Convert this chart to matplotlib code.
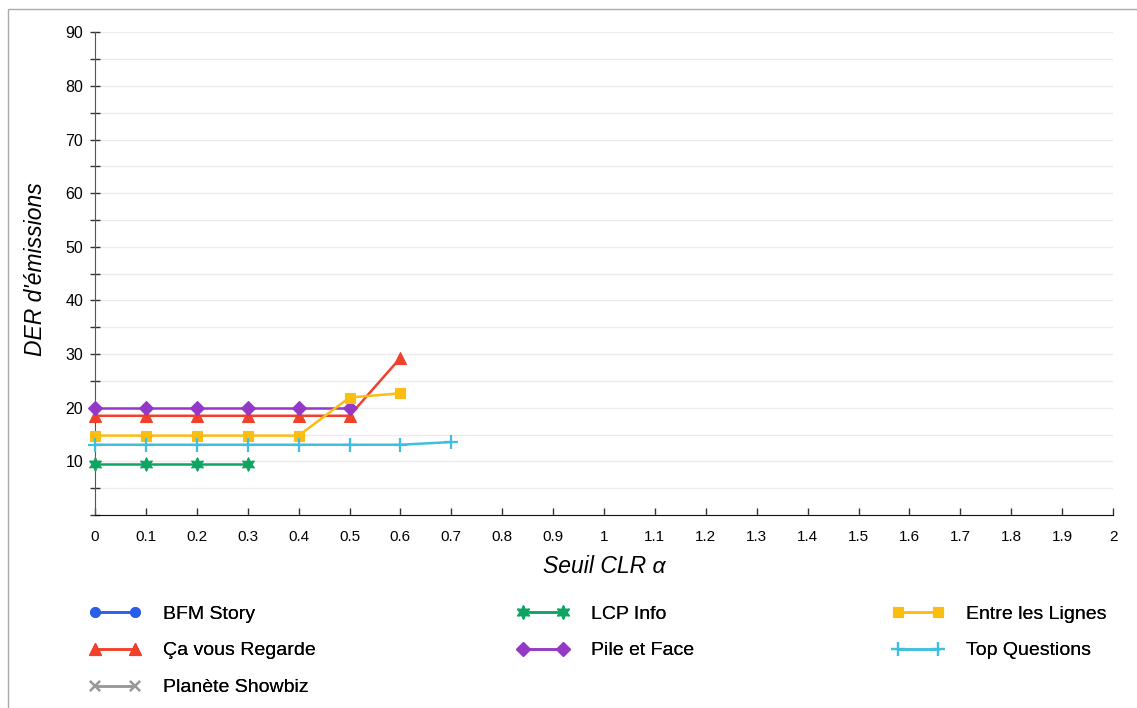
import matplotlib.pyplot as plt
from matplotlib.patches import Rectangle
from matplotlib.ticker import MultipleLocator

plt.rcParams['font.family'] = ['Liberation Sans', 'DejaVu Sans']

# data
alphas = [0.0, 0.1, 0.2, 0.3, 0.4, 0.5, 0.6, 0.7]

bfm_story = []
ca_vous_regarde = [18.5, 18.5, 18.5, 18.5, 18.5, 18.5, 29.3]
planete_showbiz = []
lcp_info = [9.5, 9.5, 9.5, 9.5]
pile_et_face = [19.9, 19.9, 19.9, 19.9, 19.9, 19.9]
entre_les_lignes = [14.8, 14.8, 14.8, 14.8, 14.8, 21.9, 22.7]
top_questions = [13.1, 13.1, 13.1, 13.1, 13.1, 13.1, 13.1, 13.6]

series = [
    ("BFM Story", bfm_story, "#2a5ee8", "o", 7),
    ("Ça vous Regarde", ca_vous_regarde, "#f0412b", "^", 9),
    ("Planète Showbiz", planete_showbiz, "#999999", "x", 7),
    ("LCP Info", lcp_info, "#0da561", (6, 1, 0), 10),
    ("Pile et Face", pile_et_face, "#9438c8", "D", 7),
    ("Entre les Lignes", entre_les_lignes, "#fbbd12", "s", 7),
    ("Top Questions", top_questions, "#3fbfe0", "+", 10),
]

W, H = 1137, 708
fig = plt.figure(figsize=(W / 100, H / 100), dpi=100)
ax = fig.add_axes([95 / W, 1 - 515 / H, (1113 - 95) / W, (515 - 32.3) / H])

handles = {}
for name, vals, color, marker, ms in series:
    xs = alphas[:len(vals)]
    (ln,) = ax.plot(xs, vals, color=color, marker=marker, markersize=ms,
                    linewidth=1.8, markeredgewidth=1.6 if marker in ("x", "+") else 0.8,
                    markeredgecolor=color, clip_on=False, zorder=3)
    handles[name] = ln

ax.set_xlim(0, 2)
ax.set_ylim(0, 90)
ax.yaxis.set_minor_locator(MultipleLocator(5))
xt = [round(i * 0.1, 1) for i in range(21)]
ax.set_xticks(xt)
ax.set_xticklabels([("%g" % v) for v in xt], fontsize=11)
yt = list(range(10, 100, 10))
ax.set_yticks(yt)
ax.set_yticklabels([str(v) for v in yt], fontsize=11.5)

ax.grid(True, which="both", axis="y", color="#ebebeb", linewidth=1)
ax.set_axisbelow(True)
for s in ("top", "right"):
    ax.spines[s].set_visible(False)
ax.spines["left"].set_color("#555555")
ax.spines["bottom"].set_color("#111111")
ax.tick_params(axis="y", which="both", direction="inout", length=7, width=1, color="#333333", pad=5)
ax.tick_params(axis="x", direction="in", length=5, width=1, color="#333333", pad=11)

ax.set_xlabel("Seuil CLR α", fontsize=16.5, style="italic", labelpad=8)
ax.set_ylabel("DER d'émissions", fontsize=16.5, style="italic")
ax.yaxis.set_label_coords(-48 / (1113 - 95), 0.51)

# legend, three columns
fs = 14
cols = [
    (["BFM Story", "Ça vous Regarde", "Planète Showbiz"], 71.7),
    (["LCP Info", "Pile et Face"], 499.7),
    (["Entre les Lignes", "Top Questions"], 874.7),
]
for names, xpx in cols:
    leg = fig.legend([handles[n] for n in names], names, loc="upper left",
                     bbox_to_anchor=(xpx / W, 1 - 587.5 / H), frameon=False,
                     fontsize=fs, numpoints=2, handlelength=2.66,
                     handletextpad=1.14, labelspacing=0.99)
    fig.add_artist(leg)

# light frame around the chart
fig.add_artist(Rectangle((8 / W, -0.1), 1.2, 1.1 - 9 / H, transform=fig.transFigure,
                         fill=False, edgecolor="#aaaaaa", linewidth=1))

fig.savefig("out.png", dpi=100)
